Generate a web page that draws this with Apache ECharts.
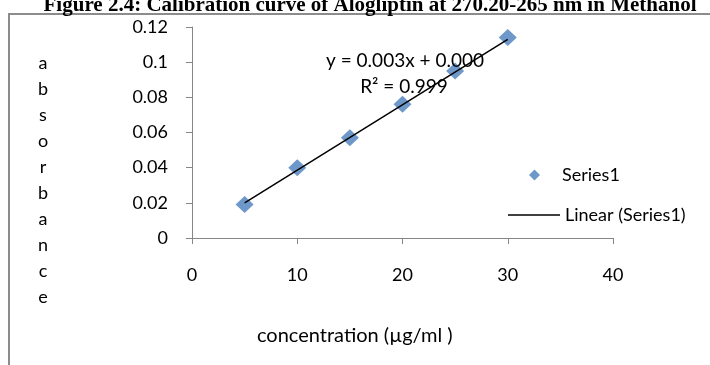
<!DOCTYPE html>
<html>
<head>
<meta charset="utf-8">
<script src="https://cdn.jsdelivr.net/npm/echarts@6/dist/echarts.min.js"></script>
<style>html,body{margin:0;padding:0;background:#fff;}#c{width:710px;height:365px;}</style>
</head>
<body>
<div id="c"></div>
<script>
// data
var concentration = [5, 10, 15, 20, 25, 30];
var absorbance = [0.019, 0.040, 0.057, 0.076, 0.095, 0.114];
// trendline end points
var trendX = [5, 30];
var trendY = [0.020, 0.113];
var xTicks = [0, 10, 20, 30, 40];
var yTicks = [0, 0.02, 0.04, 0.06, 0.08, 0.1, 0.12];
var seriesName = 'Series1';
var trendName = 'Linear (Series1)';
var titleText = 'Figure 2.4: Calibration curve of Alogliptin at 270.20-265 nm in Methanol';
var equationText = 'y = 0.003x + 0.000';
var r2Text = 'R² = 0.999';
var xTitle = 'concentration (µg/ml )';
var yTitle = 'absorbance';

var FONT = 'Lato';
var chart = echarts.init(document.getElementById('c'), null, {renderer: 'canvas'});
var scatterData = concentration.map(function (x, i) { return [x, absorbance[i]]; });
var trendData = trendX.map(function (x, i) { return [x, trendY[i]]; });

chart.setOption({
  animation: false,
  backgroundColor: '#fff',
  title: {
    text: titleText,
    left: 365, textAlign: 'center',
    top: -10,
    textStyle: {fontFamily: 'Liberation Serif', fontWeight: 'bold', fontSize: 21, color: '#000'}
  },
  grid: {left: 192, right: 97, top: 27, bottom: 127, containLabel: false},
  xAxis: {
    type: 'value', min: xTicks[0], max: xTicks[xTicks.length - 1], interval: 10,
    axisLine: {onZero: false, lineStyle: {color: '#868686', width: 1}},
    axisTick: {show: true, inside: false, length: 6, lineStyle: {color: '#868686'}},
    axisLabel: {margin: 28, fontFamily: FONT, fontSize: 18, color: '#000'},
    splitLine: {show: false}
  },
  yAxis: {
    type: 'value', min: yTicks[0], max: yTicks[yTicks.length - 1], interval: 0.02,
    axisLine: {show: true, lineStyle: {color: '#868686', width: 1}},
    axisTick: {show: true, inside: false, length: 6, lineStyle: {color: '#868686'}},
    axisLabel: {margin: 24, fontFamily: FONT, fontSize: 18, color: '#000',
      formatter: function (v) { return String(+v.toFixed(2)); }},
    splitLine: {show: false}
  },
  legend: [
    {
      data: [{name: seriesName, icon: 'diamond'}],
      left: 524, top: 161, itemWidth: 11, itemHeight: 11, itemGap: 0,
      textStyle: {fontFamily: FONT, fontSize: 18, color: '#000', padding: [0, 0, 0, 17]}
    },
    {
      data: [{name: trendName, icon: 'rect'}],
      left: 503, top: 201, itemWidth: 52, itemHeight: 1.5, itemGap: 0,
      textStyle: {fontFamily: FONT, fontSize: 18, color: '#000'}
    }
  ],
  series: [
    {
      name: trendName, type: 'line', data: trendData,
      symbol: 'none', showSymbol: false, z: 3,
      lineStyle: {color: '#000', width: 1.5}, itemStyle: {color: '#000'}
    },
    {
      name: seriesName, type: 'scatter', data: scatterData,
      symbol: 'diamond', symbolSize: [18, 17], z: 2,
      itemStyle: {color: '#4a7ebb'}
    }
  ],
  graphic: [
    {type: 'rect', shape: {x: 9, y: 14, width: 720, height: 370},
     style: {fill: 'none', stroke: '#8c8c8c', lineWidth: 2}, silent: true},
    {type: 'text', x: 43, y: 50,
     style: {text: yTitle.split('').join('\n'), fontFamily: FONT, fontSize: 18, lineHeight: 26,
             align: 'center', fill: '#000'}},
    {type: 'text', x: 257, y: 336,
     style: {text: xTitle, fontFamily: FONT, fontSize: 20, align: 'left', verticalAlign: 'middle', fill: '#000'}},
    {type: 'text', x: 405, y: 61, z: 10,
     style: {text: equationText, fontFamily: FONT, fontSize: 19, align: 'center', verticalAlign: 'middle', fill: '#000'}},
    {type: 'text', x: 404, y: 87, z: 10,
     style: {text: r2Text, fontFamily: FONT, fontSize: 19, align: 'center', verticalAlign: 'middle', fill: '#000'}}
  ]
});
</script>
</body>
</html>
